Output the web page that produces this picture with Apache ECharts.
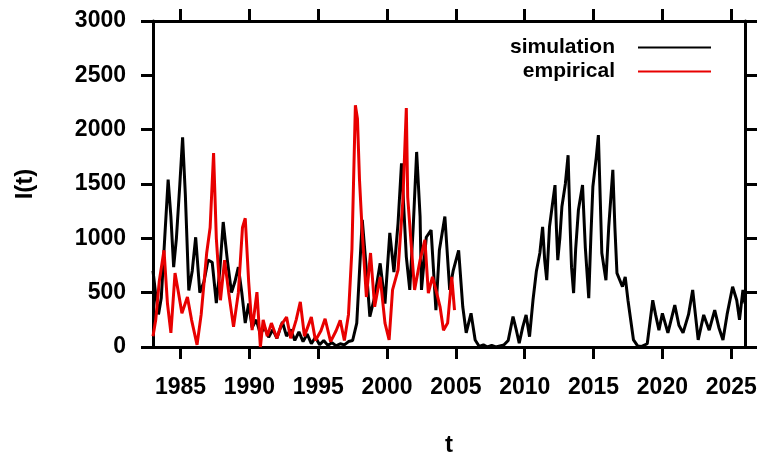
<!DOCTYPE html>
<html>
<head>
<meta charset="utf-8">
<script src="https://cdn.jsdelivr.net/npm/echarts@6/dist/echarts.min.js"></script>
<style>
  html, body { margin: 0; padding: 0; background: #fff; }
  #chart { width: 763px; height: 455px; }
</style>
</head>
<body>
<div id="chart"></div>
<script>
// Simulated prevalence I(t)
const simT = [1983.0, 1983.2, 1983.4, 1983.6, 1983.85, 1984.1, 1984.3, 1984.5, 1984.7, 1984.95,
  1985.15, 1985.35, 1985.6, 1985.85, 1986.1, 1986.4, 1986.7, 1987.0, 1987.3, 1987.6,
  1987.85, 1988.1, 1988.4, 1988.7, 1988.95, 1989.2, 1989.45, 1989.7, 1989.95, 1990.2,
  1990.5, 1990.8, 1991.1, 1991.4, 1991.7, 1992.0, 1992.4, 1992.7, 1993.0, 1993.3,
  1993.6, 1993.9, 1994.2, 1994.5, 1994.8, 1995.1, 1995.4, 1995.7, 1996.0, 1996.3,
  1996.6, 1996.9, 1997.2, 1997.5, 1997.8, 1998.2, 1998.5, 1998.75, 1999.1, 1999.5,
  1999.85, 2000.2, 2000.5, 2000.8, 2001.05, 2001.4, 2001.65, 2001.9, 2002.15, 2002.4,
  2002.5, 2002.85, 2003.2, 2003.55, 2003.8, 2004.2, 2004.55, 2004.8, 2005.2, 2005.5,
  2005.75, 2006.1, 2006.4, 2006.7, 2007.0, 2007.3, 2007.6, 2007.9, 2008.2, 2008.5,
  2008.8, 2009.15, 2009.4, 2009.6, 2009.85, 2010.1, 2010.35, 2010.6, 2010.85, 2011.1,
  2011.3, 2011.45, 2011.6, 2011.8, 2012.0, 2012.2, 2012.3, 2012.4, 2012.55, 2012.7,
  2012.95, 2013.15, 2013.3, 2013.4, 2013.55, 2013.7, 2013.9, 2014.2, 2014.3, 2014.4,
  2014.65, 2014.8, 2014.95, 2015.2, 2015.35, 2015.5, 2015.6, 2015.9, 2016.1, 2016.4,
  2016.55, 2016.7, 2017.1, 2017.3, 2017.5, 2017.9, 2018.2, 2018.5, 2018.9, 2019.3,
  2019.5, 2019.75, 2020.0, 2020.4, 2020.9, 2021.2, 2021.5, 2021.9, 2022.2, 2022.6,
  2023.0, 2023.4, 2023.8, 2024.1, 2024.4, 2024.7, 2025.1, 2025.4, 2025.6, 2025.85,
  2026.0];
const simI = [700, 480, 300, 450, 1000, 1540, 1200, 735, 1000, 1500,
  1930, 1400, 520, 700, 1010, 500, 600, 800, 780, 405,
  700, 1150, 800, 500, 600, 735, 500, 220, 400, 180,
  250, 120, 180, 90, 160, 80, 230, 100, 160, 60,
  140, 50, 120, 30, 90, 20, 60, 15, 40, 10,
  30, 20, 50, 60, 220, 1170, 710, 280, 460, 770,
  400, 1050, 690, 1140, 1690, 830, 525, 1100, 1795, 1200,
  525, 1010, 1075, 340, 890, 1200, 525, 700, 890, 370,
  130, 310, 65, 5, 20, 0, 15, 0, 10, 20,
  60, 280, 150, 35, 180, 295, 95, 430, 700, 865,
  1105, 800, 615, 1105, 1300, 1490, 1100, 800, 1000, 1290,
  1500, 1765, 1100, 735, 495, 900, 1260, 1490, 1200, 920,
  450, 1000, 1475, 1750, 1950, 1300, 865, 615, 1100, 1630,
  1100, 680, 555, 645, 430, 65, 10, 5, 30, 430,
  300, 155, 310, 130, 385, 200, 130, 300, 525, 65,
  295, 155, 340, 180, 65, 300, 555, 430, 250, 525,
  400];

// Empirical prevalence I(t)
const empT = [1983.0, 1983.2, 1983.45, 1983.8, 1984.05, 1984.3, 1984.6, 1984.85, 1985.1, 1985.5,
  1985.8, 1986.2, 1986.5, 1986.9, 1987.15, 1987.4, 1987.6, 1987.9, 1988.2, 1988.5,
  1988.85, 1989.2, 1989.5, 1989.7, 1989.95, 1990.2, 1990.55, 1990.8, 1991.0, 1991.3,
  1991.6, 1992.0, 1992.3, 1992.7, 1993.0, 1993.4, 1993.7, 1994.0, 1994.5, 1994.8,
  1995.2, 1995.5, 1995.9, 1996.3, 1996.6, 1996.9, 1997.2, 1997.45, 1997.7, 1997.85,
  1998.0, 1998.2, 1998.5, 1998.8, 1999.1, 1999.5, 1999.85, 2000.15, 2000.4, 2000.8,
  2001.15, 2001.4, 2001.5, 2001.8, 2002.0, 2002.4, 2002.75, 2003.0, 2003.3, 2003.6,
  2003.85, 2004.1, 2004.4, 2004.7, 2004.9];
const empI = [100, 250, 600, 890, 400, 130, 680, 500, 310, 460,
  250, 20, 300, 865, 1100, 1785, 1000, 430, 800, 500,
  185, 500, 1100, 1185, 600, 155, 505, 0, 250, 100,
  220, 80, 200, 275, 80, 250, 415, 100, 275, 60,
  150, 260, 50, 150, 245, 60, 300, 900, 2225, 2100,
  1536, 1050, 460, 865, 370, 645, 220, 65, 525, 710,
  1350, 2200, 1380, 865, 525, 800, 985, 495, 645, 500,
  370, 155, 220, 645, 340];

// Axis tick labels
const yearTicks = [1985, 1990, 1995, 2000, 2005, 2010, 2015, 2020, 2025];
const seriesNames = ['simulation', 'empirical'];

const pairs = (t, v) => t.map((x, i) => [x, v[i]]);

const FONT = 'Liberation Sans';
const tickFont = { fontFamily: FONT, fontWeight: 'bold', fontSize: 23, color: '#000' };
const frameLine = { show: true, onZero: false, lineStyle: { color: '#000', width: 3 } };
const outTick = () => ({ show: true, inside: false, length: 12, lineStyle: { color: '#000', width: 3 } });
const plain = v => String(v);
const blank = () => '';

const chart = echarts.init(document.getElementById('chart'), null, { renderer: 'canvas' });

chart.setOption({
  animation: false,
  backgroundColor: '#fff',
  grid: { left: 153, top: 21, right: 18, bottom: 108, containLabel: false, outerBoundsMode: 'none' },
  legend: {
    orient: 'vertical',
    right: 47,
    top: 32,
    align: 'right',
    itemGap: 3,
    itemWidth: 73,
    itemHeight: 2,
    icon: 'rect',
    textStyle: { fontFamily: FONT, fontWeight: 'bold', fontSize: 21, color: '#000', padding: [0, 18, 0, 0] },
    data: seriesNames
  },
  xAxis: [
    {
      type: 'value', min: 1983, max: 2026, position: 'bottom',
      name: 't', nameLocation: 'middle', nameGap: 86,
      nameTextStyle: { fontFamily: FONT, fontWeight: 'bold', fontSize: 24, color: '#000' },
      axisLine: frameLine,
      axisTick: Object.assign(outTick(), { customValues: yearTicks }),
      axisLabel: Object.assign({ customValues: yearTicks, margin: 29, formatter: plain }, tickFont),
      splitLine: { show: false }
    },
    {
      type: 'value', min: 1983, max: 2026, position: 'top',
      axisLine: frameLine,
      axisTick: Object.assign(outTick(), { customValues: yearTicks }),
      axisLabel: { show: true, customValues: yearTicks, formatter: blank },
      splitLine: { show: false }
    }
  ],
  yAxis: [
    {
      type: 'value', min: 0, max: 3000, interval: 500, position: 'left',
      name: 'I(t)', nameLocation: 'middle', nameGap: 116,
      nameTextStyle: { fontFamily: FONT, fontWeight: 'bold', fontSize: 24, color: '#000' },
      axisLine: frameLine,
      axisTick: outTick(),
      axisLabel: Object.assign({ margin: 27, formatter: plain }, tickFont),
      splitLine: { show: false }
    },
    {
      type: 'value', min: 0, max: 3000, interval: 500, position: 'right',
      axisLine: frameLine,
      axisTick: outTick(),
      axisLabel: { show: true, formatter: blank },
      splitLine: { show: false }
    }
  ],
  series: [
    {
      name: seriesNames[0], type: 'line', xAxisIndex: 0, yAxisIndex: 0,
      data: pairs(simT, simI), showSymbol: false, symbol: 'none',
      lineStyle: { color: '#000', width: 3 }, itemStyle: { color: '#000' }
    },
    {
      name: seriesNames[1], type: 'line', xAxisIndex: 0, yAxisIndex: 0,
      data: pairs(empT, empI), showSymbol: false, symbol: 'none',
      lineStyle: { color: '#e80000', width: 3 }, itemStyle: { color: '#e80000' }
    },
    {
      // binds the mirrored top/right axes so their ticks are laid out
      name: 'frame', type: 'line', xAxisIndex: 1, yAxisIndex: 1,
      data: [], showSymbol: false, silent: true
    }
  ]
});
</script>
</body>
</html>
